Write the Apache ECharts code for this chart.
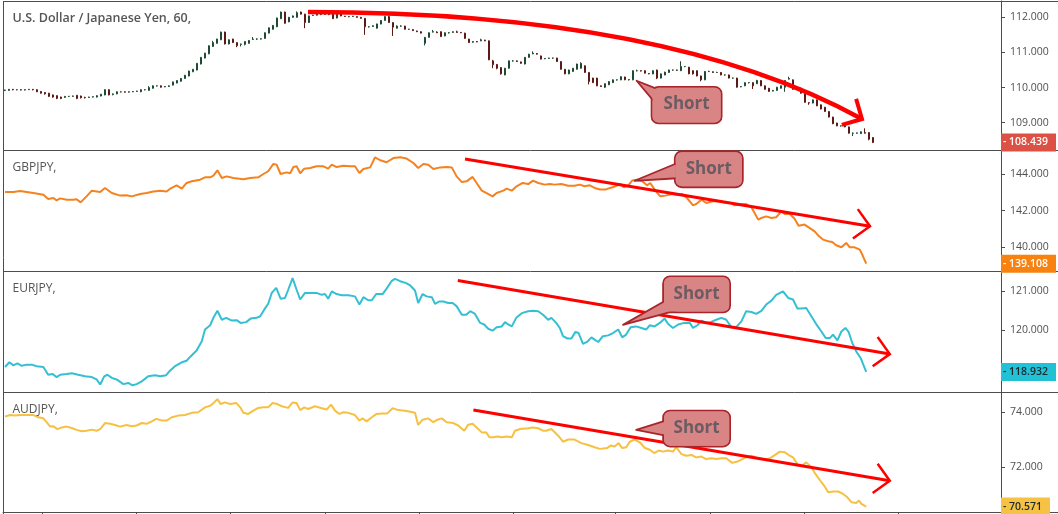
<!DOCTYPE html>
<html><head><meta charset="utf-8">
<script src="https://cdn.jsdelivr.net/npm/echarts@6/dist/echarts.min.js"></script>
<style>html,body{margin:0;padding:0;background:#fff}#c{width:1058px;height:514px}</style>
</head><body><div id="c"></div><script>
// ---------- DATA ----------
// USDJPY 60-min candles: [open, close, low, high]
const usdCandles = [
[109.92,109.93,109.90,109.94],[109.92,109.95,109.91,109.96],[109.95,109.94,109.92,109.96],[109.94,109.94,109.92,109.95],
[109.94,109.93,109.92,109.95],[109.93,109.94,109.92,109.95],[109.94,109.95,109.93,109.96],[109.95,109.94,109.92,109.96],
[109.94,109.88,109.87,109.95],[109.89,109.84,109.83,109.90],[109.86,109.82,109.80,109.87],[109.84,109.75,109.73,109.85],
[109.79,109.73,109.71,109.80],[109.77,109.69,109.67,109.78],[109.73,109.69,109.67,109.74],[109.72,109.75,109.71,109.76],
[109.75,109.75,109.73,109.76],[109.75,109.76,109.74,109.77],[109.78,109.69,109.67,109.79],[109.76,109.71,109.69,109.77],
[109.72,109.71,109.69,109.74],[109.72,109.73,109.71,109.74],[109.73,109.74,109.72,109.75],[109.73,109.77,109.72,109.78],
[109.76,109.81,109.75,109.82],[109.79,109.94,109.78,109.95],[109.94,109.79,109.78,109.95],[109.80,109.82,109.78,109.83],
[109.82,109.88,109.81,109.89],[109.88,109.88,109.86,109.89],[109.88,109.87,109.86,109.89],[109.87,109.88,109.86,109.89],
[109.88,109.89,109.87,109.90],[109.89,109.90,109.88,109.91],[109.88,109.94,109.87,109.95],[109.94,109.94,109.92,109.95],
[109.92,110.00,109.91,110.04],[109.98,110.05,109.97,110.06],[110.05,110.05,110.03,110.06],[110.05,110.01,110.00,110.06],
[110.02,110.03,110.01,110.04],[110.03,110.05,110.02,110.06],[110.07,110.16,110.06,110.17],[110.13,110.20,110.12,110.21],
[110.18,110.26,110.17,110.27],[110.26,110.35,110.25,110.36],[110.33,110.47,110.32,110.48],[110.45,110.52,110.44,110.53],
[110.50,110.69,110.49,110.70],[110.67,110.86,110.66,110.87],[110.84,110.98,110.83,110.99],[110.96,111.19,110.95,111.20],
[111.17,111.28,111.16,111.33],[111.26,111.38,111.25,111.39],[111.36,111.58,111.35,111.59],[111.58,111.24,111.23,111.59],
[111.24,111.36,111.23,111.37],[111.38,111.28,111.27,111.39],[111.28,111.19,111.15,111.29],[111.23,111.24,111.17,111.25],
[111.23,111.31,111.20,111.32],[111.26,111.34,111.25,111.35],[111.37,111.38,111.36,111.44],[111.38,111.38,111.36,111.40],
[111.38,111.39,111.37,111.40],[111.40,111.56,111.39,111.57],[111.55,111.70,111.54,111.71],[111.66,111.77,111.65,111.78],
[111.73,111.98,111.72,111.99],[111.96,112.15,111.95,112.16],[112.15,111.83,111.82,112.16],[111.87,112.00,111.86,112.01],
[112.00,112.04,111.99,112.05],[112.00,112.13,111.99,112.17],[112.15,112.09,112.08,112.16],[112.09,111.85,111.69,112.10],
[111.85,112.04,111.84,112.05],[112.05,112.06,112.04,112.07],[112.06,112.09,112.05,112.10],[112.08,112.08,112.06,112.09],
[112.08,112.09,112.07,112.10],[112.09,112.08,112.06,112.10],[112.09,111.96,111.95,112.10],[111.98,112.13,111.97,112.14],
[112.13,112.04,112.03,112.14],[112.03,112.02,112.01,112.04],[112.02,112.02,112.00,112.03],
[112.02,112.03,112.01,112.04],[112.02,112.00,111.99,112.03],[112.00,111.97,111.96,112.01],[111.97,111.73,111.50,111.98],
[111.73,111.73,111.71,111.75],[111.74,111.76,111.73,111.77],[111.69,111.81,111.68,111.82],[111.81,111.91,111.80,111.92],
[111.91,112.02,111.90,112.03],[112.02,111.85,111.84,112.05],[111.85,111.72,111.47,111.86],[111.69,111.75,111.68,111.77],
[111.75,111.75,111.73,111.77],[111.75,111.66,111.65,111.76],[111.66,111.66,111.64,111.67],[111.65,111.62,111.61,111.66],
[111.61,111.59,111.58,111.62],[111.59,111.55,111.54,111.60],[111.26,111.43,111.20,111.44],[111.43,111.56,111.42,111.57],
[111.58,111.59,111.57,111.64],[111.58,111.56,111.55,111.60],[111.59,111.45,111.44,111.60],[111.47,111.56,111.46,111.57],
[111.56,111.56,111.54,111.58],[111.57,111.59,111.56,111.60],[111.59,111.57,111.56,111.62],[111.57,111.56,111.55,111.58],
[111.55,111.40,111.39,111.56],[111.38,111.28,111.27,111.39],[111.29,111.31,111.28,111.32],[111.31,111.30,111.29,111.32],
[111.33,111.36,111.32,111.39],[111.35,111.33,111.32,111.36],[111.33,110.79,110.78,111.34],[110.76,110.65,110.55,110.79],
[110.66,110.55,110.52,110.67],[110.57,110.39,110.37,110.58],[110.36,110.55,110.35,110.56],[110.55,110.76,110.54,110.77],
[110.76,110.76,110.74,110.78],[110.76,110.74,110.73,110.77],[110.73,110.69,110.68,110.74],[110.67,110.86,110.66,110.87],
[110.86,110.95,110.85,110.96],[110.96,110.98,110.95,111.03],[110.97,110.95,110.94,110.98],[110.90,110.81,110.80,110.91],
[110.82,110.83,110.81,110.84],[110.83,110.84,110.82,110.85],[110.84,110.84,110.82,110.85],[110.84,110.74,110.73,110.85],
[110.74,110.52,110.51,110.75],[110.52,110.39,110.38,110.53],[110.39,110.50,110.38,110.51],[110.46,110.55,110.45,110.56],
[110.52,110.67,110.51,110.68],[110.55,110.69,110.54,110.72],[110.62,110.43,110.42,110.63],[110.43,110.17,110.09,110.44],
[110.27,110.14,110.13,110.28],[110.27,110.05,110.04,110.28],[110.05,110.03,110.02,110.06],[110.01,110.11,109.99,110.12],
[110.08,110.17,110.07,110.18],[110.14,110.22,110.13,110.23],[110.22,110.22,110.20,110.23],[110.22,110.31,110.21,110.32],
[110.30,110.22,110.21,110.31],[110.22,110.23,110.20,110.24],[110.22,110.48,110.21,110.49],[110.48,110.48,110.46,110.51],
[110.48,110.47,110.46,110.49],[110.48,110.41,110.40,110.49],[110.40,110.39,110.38,110.41],[110.39,110.48,110.38,110.49],
[110.50,110.27,110.24,110.51],[110.27,110.39,110.26,110.40],[110.36,110.44,110.35,110.45],[110.43,110.50,110.42,110.51],
[110.50,110.50,110.48,110.51],[110.50,110.49,110.48,110.51],[110.48,110.60,110.47,110.75],[110.60,110.60,110.58,110.61],
[110.58,110.39,110.38,110.59],[110.48,110.39,110.37,110.49],[110.48,110.33,110.32,110.49],[110.33,110.22,110.18,110.34],
[110.22,110.46,110.21,110.47],[110.46,110.46,110.44,110.48],[110.45,110.43,110.42,110.46],[110.43,110.43,110.42,110.45],
[110.43,110.36,110.35,110.44],[110.36,110.36,110.34,110.37],[110.36,110.27,110.26,110.37],[110.27,110.27,110.25,110.28],
[110.27,110.01,110.00,110.28],[110.02,110.03,110.01,110.04],[110.05,110.14,110.04,110.15],[110.14,110.14,110.12,110.15],
[110.14,110.05,109.96,110.15],[110.11,110.20,110.10,110.22],[110.20,110.05,110.04,110.21],[110.05,109.95,109.94,110.06],
[109.98,109.89,109.88,109.99],[109.90,109.92,109.89,109.93],[109.92,110.01,109.91,110.02],[109.98,110.05,109.97,110.06],
[110.01,110.20,109.88,110.21],[110.24,110.26,110.23,110.31],[110.22,109.95,109.94,110.23],[109.95,109.95,109.93,109.97],
[109.98,109.84,109.83,110.00],[109.82,109.58,109.57,109.83],[109.57,109.56,109.51,109.58],[109.56,109.65,109.55,109.66],
[109.65,109.48,109.47,109.66],[109.51,109.39,109.38,109.52],[109.44,109.32,109.31,109.45],[109.32,109.16,109.15,109.33],
[109.16,108.97,108.96,109.17],[108.99,108.91,108.90,109.00],[108.91,108.91,108.89,108.92],[108.88,108.97,108.87,108.98],
[108.88,108.70,108.69,108.89],[108.70,108.70,108.62,108.72],[108.70,108.71,108.69,108.72],[108.69,108.74,108.68,108.75],
[108.72,108.70,108.69,108.84],[108.72,108.53,108.50,108.73],[108.58,108.439,108.42,108.59]
];
// [bar index, close]
const gbpjpy = [
[0,143.02],[2.1,143.02],[3.8,143.07],[5.4,143.02],[7.1,142.96],[9.6,142.87],[10.8,142.64],[12.1,142.69],[12.9,142.56],[13.8,142.67],[15.4,142.60],[17.1,142.60],[17.9,142.62],[18.9,142.45],[20.4,142.78],[21.7,143.09],[23.8,143.02],[25,143.24],[26.7,142.96],[28.8,142.82],[30.4,142.84],[31.7,142.78],[33.8,142.91],[35.4,142.96],[37.1,143.05],[38.8,143.09],[40.4,143.04],[41.3,143.20],[42.9,143.38],[44.2,143.20],[45.4,143.51],[46.7,143.60],[48.8,143.69],[50,143.82],[51.3,143.82],[52.1,143.91],[53.1,144.20],[54.2,143.78],[55.4,143.87],[57.1,143.78],[59.6,143.71],[61.3,143.78],[63.3,143.82],[64.6,144.00],[65.8,144.15],[67.1,144.55],[67.9,144.51],[68.9,144.00],[70.4,144.09],[71.3,144.04],[72.1,144.38],[72.9,144.42],[73.8,144.04],[74.8,144.29],[76.3,144.33],[77.9,144.42],[79.6,144.42],[80.8,144.29],[81.7,144.51],[82.9,144.38],[84.6,144.45],[86.3,144.42],[87.5,144.42],[88.6,144.05],[89.6,144.27],[91.3,144.36],[92.5,144.91],[93.8,144.75],[95.4,144.64],[97.1,144.87],[98.8,144.91],[100.4,144.84],[102.1,144.60],[103.3,144.33],[104.6,144.55],[105.8,144.51],[107.1,144.27],[108.8,144.36],[110.4,144.38],[111.7,144.36],[112.9,143.87],[114.2,143.56],[115.4,143.60],[116.9,143.84],[117.9,143.51],[119.2,143.09],[120.4,142.96],[121.9,142.78],[122.9,142.96],[124.6,143.09],[125.4,143.20],[126.7,143.09],[127.9,143.33],[129.4,143.51],
[130.8,143.45],[132,143.64],[133.3,143.51],[134.9,143.42],[136.2,143.45],[137.4,143.42],[139.1,143.45],[140.8,143.36],[142.4,143.36],[143.7,143.42],[144.9,143.33],[146.2,143.38],[147.4,143.24],[148.8,143.15],[150.1,143.15],[151.3,143.24],[152.6,143.33],[153.8,143.45],[154.7,143.27],[155.8,143.38],[156.8,143.64],[158,143.69],[159.3,143.60],[160.5,143.38],[161.3,143.51],[162.6,143.09],[163.8,142.78],[165.1,142.82],[166.8,142.91],[168,142.87],[169.3,142.91],[170.5,142.69],[172,142.29],[172.8,142.36],[174.1,142.60],[175.3,142.42],[177,142.51],[178.7,142.51],[179.9,142.45],[181.6,142.42],[182.4,142.29],[183.7,142.33],[185.3,142.36],[186.6,142.18],[187.4,141.87],[188.3,141.51],[189.1,141.60],[190.3,141.69],[191.6,141.60],[192.8,141.64],[194.1,141.96],[194.9,141.82],[196.2,141.82],[197.4,141.56],[198.4,141.18],[199.9,141.24],[201.2,141.05],[202.4,140.87],[203.3,140.65],[204.5,140.42],[205.8,140.33],[206.8,140.29],[207.8,140.11],[209.1,140.00],[210.3,140.24],[211.2,140.00],[212.4,140.00],[213.7,139.87],[214.5,139.51],[215.3,139.108]
];
const eurjpy = [
[0,119.06],[1.1,119.18],[2.1,119.10],[3.1,119.15],[4.2,119.09],[5.4,119.12],[6.7,119.12],[7.9,119.08],[9.6,119.06],[10.8,118.86],[11.9,118.88],[12.9,118.80],[13.8,118.86],[15.4,118.88],[16.7,118.90],[18.3,118.86],[20,118.82],[21.7,118.80],[22.9,118.74],[23.8,118.61],[24.8,118.82],[25.6,118.86],[26.7,118.78],[27.9,118.74],[29.6,118.62],[30.8,118.65],[31.9,118.59],[32.9,118.62],[34.2,118.69],[35.8,118.82],[37.5,118.85],[38.8,118.82],[40.3,118.85],[41.3,118.97],[42.5,119.08],[44.2,119.18],[45.4,119.22],[46.4,119.33],[47.9,119.48],[49.2,119.72],[50,120.02],[51.3,120.13],[52.1,120.32],[53.1,120.50],[54.2,120.27],[55.3,120.32],[56.7,120.25],[57.9,120.26],[58.9,120.19],[60.3,120.21],[61.4,120.30],[62.9,120.32],[63.8,120.36],[64.8,120.53],[65.8,120.68],[66.7,120.96],[67.8,121.09],[68.9,120.81],[70,120.83],[70.8,121.04],[71.9,121.34],[72.9,121.04],[73.8,120.79],[75,120.96],[76.7,120.96],[77.9,120.96],[79.2,120.91],[80,120.93],[80.8,120.81],[81.7,121.00],[82.9,120.93],[84.2,120.90],[85.8,120.90],[87.5,120.87],[88.6,120.66],[89.6,120.85],[90.8,120.77],[91.7,120.77],[92.8,120.93],[94.4,120.93],[95.4,121.07],[96.7,121.27],[97.5,121.32],[98.8,121.26],[100.3,121.21],[101.3,121.15],[102.5,121.02],[103.3,120.70],[104.4,120.93],[105.4,120.87],[106.7,120.85],[107.5,120.68],[108.6,120.74],[109.6,120.74],[110.8,120.70],[111.9,120.70],[112.9,120.62],[114.2,120.40],[115.3,120.40],[116.3,120.49],[117.5,120.42],[118.8,120.19],[119.8,120.15],[120.8,120.04],[121.9,119.99],[122.9,120.08],[124.2,120.10],[125,120.21],[125.8,120.15],[126.7,120.10],[127.8,120.32],[129.2,120.44],
[130.8,120.49],[132,120.50],[133.3,120.49],[134.5,120.40],[135.8,120.27],[136.6,120.32],[137.8,120.19],[138.7,120.06],[139.5,119.85],[140.6,119.79],[141.6,119.79],[142.6,119.96],[143.4,119.93],[144.5,119.65],[145.6,119.71],[146.6,119.82],[147.4,119.76],[148.3,119.70],[149.5,119.85],[150.8,119.87],[152,119.93],[153.3,120.02],[154.3,119.82],[155.3,119.89],[156.4,120.08],[157.8,120.10],[159.1,120.06],[160.3,120.02],[161.2,120.13],[162.4,120.10],[163.7,120.19],[164.9,120.30],[165.8,120.16],[167,120.06],[168.3,120.15],[169.8,120.19],[171.2,120.19],[172,120.06],[173.1,120.13],[174.1,120.25],[175.3,120.19],[176.4,120.21],[177.8,120.27],[179.1,120.32],[180.3,120.27],[181.6,120.08],[182.8,120.08],[184.1,120.23],[185.3,120.49],[186.6,120.47],[187.8,120.42],[189.1,120.50],[190.3,120.66],[191.6,120.76],[192.8,120.91],[194.5,121.00],[195.8,120.83],[197,120.79],[198.1,120.56],[199.1,120.56],[200.3,120.57],[201.6,120.36],[202.8,120.16],[204.1,119.97],[205.2,119.80],[206.2,119.80],[207,119.89],[208.1,119.74],[209.1,119.97],[210.1,120.06],[210.9,119.96],[211.8,119.68],[212.8,119.46],[213.9,119.29],[215.3,118.932]
];
const audjpy = [
[0,73.85],[1.3,73.90],[2.5,73.88],[3.8,73.90],[5.4,73.90],[7.1,73.90],[8.3,73.82],[9.6,73.78],[10.4,73.64],[11.3,73.48],[12.1,73.49],[13.1,73.39],[14.2,73.45],[15.4,73.48],[16.7,73.43],[17.9,73.36],[19.2,73.31],[20.4,73.33],[21.7,73.37],[22.9,73.33],[23.8,73.39],[25,73.61],[26.3,73.58],[27.5,73.54],[28.8,73.48],[30.4,73.54],[31.7,73.49],[32.9,73.52],[34.2,73.61],[35.4,73.58],[36.7,73.67],[37.8,73.76],[39.2,73.70],[40.4,73.70],[41.7,73.82],[43.3,73.88],[45,73.90],[46.7,73.98],[48.3,74.00],[50,74.18],[51.3,74.24],[52.3,74.36],[53.1,74.48],[53.9,74.30],[55,74.36],[56.3,74.30],[57.8,74.34],[58.8,74.18],[59.6,73.98],[60.8,73.94],[62.1,74.06],[63.3,74.16],[64.6,74.18],[65.8,74.18],[66.9,74.34],[68.1,74.30],[69.2,74.22],[70.8,74.16],[71.9,74.36],[72.9,74.34],[73.8,74.08],[74.8,74.18],[75.8,74.12],[77.5,74.22],[79.2,74.15],[80.4,74.10],[81.5,74.28],[82.5,74.06],[83.6,73.94],[84.6,74.00],[85.8,73.98],[87.5,73.90],[88.6,73.70],[89.4,73.78],[90.4,73.67],[91.7,73.82],[92.9,73.94],[94.2,73.96],[95.6,73.96],[96.9,74.15],[98.3,74.08],[100,74.06],[101.3,74.02],[102.5,73.98],[103.3,73.54],[104.4,73.73],[105.8,73.78],[107.1,73.64],[108.1,73.73],[109.2,73.78],[110.4,73.64],[112.1,73.61],[113.3,73.52],[114.8,73.33],[115.8,73.55],[116.9,73.58],[117.9,73.45],[119.2,73.27],[120.3,73.27],[121.1,73.09],[122.1,73.09],[123.1,73.12],[124.2,73.09],[125.4,73.12],[126.7,73.09],[127.5,73.33],[128.8,73.39],
[130.8,73.42],[132,73.45],[133.3,73.42],[134.5,73.33],[135.3,73.33],[136.6,73.39],[138.3,73.15],[139.5,72.93],[140.8,73.01],[142.4,73.01],[144.1,72.88],[145.8,72.81],[147.4,72.73],[148.7,72.67],[150.5,72.70],[151.4,72.79],[152.4,72.76],[153.4,72.88],[154.3,72.70],[155.3,72.73],[156.2,72.93],[157.4,73.01],[158.7,72.91],[160,72.70],[161.2,72.64],[162.3,72.52],[163.4,72.61],[164.5,72.57],[165.8,72.61],[167,72.57],[167.8,72.73],[169.1,72.48],[170.3,72.42],[171.6,72.45],[172.8,72.36],[174.1,72.39],[175.3,72.30],[176.6,72.33],[177.8,72.30],[179.1,72.33],[180.3,72.33],[181.8,72.16],[183.1,72.21],[184.1,72.28],[185.3,72.36],[186.6,72.42],[187.8,72.36],[189.1,72.30],[190.3,72.28],[191.6,72.36],[192.8,72.48],[193.7,72.57],[194.9,72.55],[196.2,72.42],[197,72.36],[198.1,72.12],[199.1,72.04],[200.3,72.18],[201.6,72.00],[202.6,71.76],[203.8,71.52],[204.9,71.31],[205.8,71.09],[207,71.12],[208.3,71.12],[209.5,71.03],[210.6,70.91],[211.6,70.73],[212.8,70.70],[213.5,70.79],[214.1,70.67],[215.3,70.571]
];
const usdTicks = [109, 110, 111, 112];
const gbpTicks = [140, 142, 144];
const eurTicks = [120, 121];
const audTicks = [72, 74];
const timeTicks = [9.2, 32.9, 56.3, 80, 103.6, 127.1, 152.6, 176.2, 199.8, 223.3];
const paneTitles = ['U.S. Dollar / Japanese Yen, 60,', 'GBPJPY,', 'EURJPY,', 'AUDJPY,'];
// annotations in data space: [x, price]
const trendArrows = [
  { from: [75.75, 112.15], ctrl: [165.5, 112.15], to: [214.25, 109.105] },
  { from: [115, 144.82], ctrl: [115, 144.82], to: [216.25, 141.15] },
  { from: [113.2, 121.28], ctrl: [113.2, 121.28], to: [221.2, 119.39] },
  { from: [117.1, 74.08], ctrl: [117.1, 74.08], to: [221.2, 71.51] }
];
const callouts = [
  { text: 'Short', tip: [157.9, 110.195], box: [170.4, 109.50] },
  { text: 'Short', tip: [157.4, 143.63], box: [175.95, 144.26] },
  { text: 'Short', tip: [154.5, 120.14], box: [172.9, 120.92] },
  { text: 'Short', tip: [157.8, 73.36], box: [172.9, 73.41] }
];

// ---------- STYLE / LAYOUT ----------
const CHROME = '#4d4d4d';
const FONT = 'Open Sans';
const panes = [
  { top: 1, height: 149.5, min: 108.209, max: 112.464, ticks: usdTicks, titleTop: 11.5, titleSize: 12.5, titleWeight: 600 },
  { top: 150.5, height: 120.5, min: 138.707, max: 145.282, ticks: gbpTicks, titleTop: 162, titleSize: 12, titleWeight: 'normal' },
  { top: 271, height: 121, min: 118.418, max: 121.521, ticks: eurTicks, titleTop: 282.8, titleSize: 12, titleWeight: 'normal' },
  { top: 392, height: 120, min: 70.375, max: 74.738, ticks: audTicks, titleTop: 403.8, titleSize: 12, titleWeight: 'normal' }
];
const arrowWidths = [4.5, 3, 3, 3];
const calloutShapes = [
  { w: 70, h: 36.6, base: [[-29, -16], [-32, -3]] },
  { w: 68, h: 36, base: [[-32, -6], [-32, 9]] },
  { w: 67, h: 36, base: [[-31, 6], [-20, 16]] },
  { w: 67, h: 36, base: [[-31, -8], [-31, 7]] }
];
const lastLabelStyles = [
  { bg: '#dd5044', color: '#ffffff' },
  { bg: '#f7820f', color: '#ffffff' },
  { bg: '#22c1d6', color: '#1b2a30' },
  { bg: '#f6c244', color: '#1b2a30' }
];

function lastMark(value, k) {
  const s = lastLabelStyles[k];
  return {
    silent: true, symbol: 'none', precision: 3, animation: false,
    lineStyle: { color: 'rgba(0,0,0,0)', width: 0, opacity: 1 },
    emphasis: { disabled: true },
    label: {
      show: true, position: 'end', distance: 0, opacity: 1,
      formatter: '- ' + value.toFixed(3),
      backgroundColor: s.bg, color: s.color,
      padding: [3, 8, 2, 2], fontSize: 10.5, lineHeight: 13,
      fontFamily: FONT, fontWeight: 600
    },
    data: [{ yAxis: value }]
  };
}

function arrowRenderer(width) {
  return function (params, api) {
    const p0 = api.coord([api.value(0), api.value(1)]);
    const c = api.coord([api.value(2), api.value(3)]);
    const p1 = api.coord([api.value(4), api.value(5)]);
    let dx = p1[0] - c[0], dy = p1[1] - c[1];
    const len = Math.hypot(dx, dy) || 1; dx /= len; dy /= len;
    const bx = -dx, by = -dy, a = Math.PI / 4, L = 21;
    const arm = s => [p1[0] + L * (bx * Math.cos(s * a) - by * Math.sin(s * a)),
                      p1[1] + L * (bx * Math.sin(s * a) + by * Math.cos(s * a))];
    return {
      type: 'group', children: [
        { type: 'bezierCurve', shape: { x1: p0[0], y1: p0[1], x2: p1[0], y2: p1[1], cpx1: c[0], cpy1: c[1] },
          style: { stroke: '#ff0000', lineWidth: width, fill: 'none', lineCap: 'butt' } },
        { type: 'polyline', shape: { points: [arm(1), p1, arm(-1)] },
          style: { stroke: '#ff0000', lineWidth: width - 0.5, fill: 'none', lineJoin: 'miter' } }
      ]
    };
  };
}

function calloutRenderer(spec, label) {
  const FILL = '#d98585', STROKE = '#a8262b', LW = 1.8;
  return function (params, api) {
    const tip = api.coord([api.value(0), api.value(1)]);
    const c = api.coord([api.value(2), api.value(3)]);
    const b1 = [c[0] + spec.base[0][0], c[1] + spec.base[0][1]];
    const b2 = [c[0] + spec.base[1][0], c[1] + spec.base[1][1]];
    const x = c[0] - spec.w / 2, y = c[1] - spec.h / 2;
    return {
      type: 'group', children: [
        { type: 'rect', shape: { x: x, y: y, width: spec.w, height: spec.h, r: 7 }, style: { fill: FILL, stroke: STROKE, lineWidth: LW } },
        { type: 'polygon', shape: { points: [tip, b1, b2] }, style: { fill: FILL, stroke: STROKE, lineWidth: LW, lineJoin: 'round' } },
        { type: 'rect', shape: { x: x + LW / 2, y: y + LW / 2, width: spec.w - LW, height: spec.h - LW, r: 6 }, style: { fill: FILL, stroke: 'none' } },
        { type: 'text', x: c[0], y: c[1] - 0.5, style: { text: label, fill: '#6a5c62', font: 'bold 17px "Open Sans"', align: 'center', verticalAlign: 'middle' } }
      ]
    };
  };
}

const chart = echarts.init(document.getElementById('c'), null, { renderer: 'canvas' });

const grid = panes.map(p => ({ left: 3, right: 57, top: p.top, height: p.height, show: false }));
const xAxis = panes.map((p, k) => ({
  type: 'value', gridIndex: k, min: -0.5, max: 249, show: k === 3,
  axisLine: { show: true, lineStyle: { color: CHROME } },
  axisTick: { show: true, length: 3, customValues: timeTicks, lineStyle: { color: CHROME } },
  axisLabel: { show: false }, splitLine: { show: false }
}));
const yAxis = panes.map((p, k) => ({
  type: 'value', gridIndex: k, position: 'right', min: p.min, max: p.max,
  axisLine: { show: true, onZero: false, lineStyle: { color: CHROME } },
  axisTick: { show: true, length: 4, customValues: p.ticks, lineStyle: { color: CHROME } },
  axisLabel: { customValues: p.ticks, formatter: v => Number(v).toFixed(3), color: '#505050', fontSize: 10.5, fontFamily: FONT, margin: 9 },
  splitLine: { show: false }
}));

const usdLast = usdCandles[usdCandles.length - 1][1];
const series = [
  {
    type: 'candlestick', xAxisIndex: 0, yAxisIndex: 0, barWidth: 2, z: 2,
    data: usdCandles.map((d, i) => [i, d[0], d[1], d[2], d[3]]),
    itemStyle: { color: '#4e9c6f', color0: '#c4473d', borderColor: '#1f4a33', borderColor0: '#5c1a16', borderWidth: 1 },
    markLine: lastMark(usdLast, 0)
  },
  { type: 'line', xAxisIndex: 1, yAxisIndex: 1, data: gbpjpy, showSymbol: false, symbol: 'none', z: 2,
    lineStyle: { color: '#f5821f', width: 2 }, itemStyle: { color: '#f5821f' }, markLine: lastMark(gbpjpy[gbpjpy.length - 1][1], 1) },
  { type: 'line', xAxisIndex: 2, yAxisIndex: 2, data: eurjpy, showSymbol: false, symbol: 'none', z: 2,
    lineStyle: { color: '#35bfd3', width: 2 }, itemStyle: { color: '#35bfd3' }, markLine: lastMark(eurjpy[eurjpy.length - 1][1], 2) },
  { type: 'line', xAxisIndex: 3, yAxisIndex: 3, data: audjpy, showSymbol: false, symbol: 'none', z: 2,
    lineStyle: { color: '#f6c143', width: 2 }, itemStyle: { color: '#f6c143' }, markLine: lastMark(audjpy[audjpy.length - 1][1], 3) }
];
trendArrows.forEach((a, k) => series.push({
  type: 'custom', xAxisIndex: k, yAxisIndex: k, z: 5, silent: true,
  data: [[a.from[0], a.from[1], a.ctrl[0], a.ctrl[1], a.to[0], a.to[1]]],
  renderItem: arrowRenderer(arrowWidths[k])
}));
callouts.forEach((c, k) => series.push({
  type: 'custom', xAxisIndex: k, yAxisIndex: k, z: 6, silent: true,
  data: [[c.tip[0], c.tip[1], c.box[0], c.box[1]]],
  renderItem: calloutRenderer(calloutShapes[k], c.text)
}));

const title = panes.map((p, k) => ({
  text: paneTitles[k], left: 12.5, top: p.titleTop, padding: 0,
  textStyle: { fontFamily: FONT, fontSize: p.titleSize, fontWeight: p.titleWeight, color: '#555555' }
}));

const sepY = [1.5, 150.5, 271.5, 392.5, 512.5];
const graphic = sepY.map(y => ({ type: 'line', silent: true, z: 0, shape: { x1: 3, y1: y, x2: 1058, y2: y }, style: { stroke: CHROME, lineWidth: 1 } }));
graphic.push({ type: 'line', silent: true, z: 0, shape: { x1: 3.5, y1: 1, x2: 3.5, y2: 514 }, style: { stroke: CHROME, lineWidth: 1 } });

chart.setOption({
  animation: false,
  backgroundColor: '#ffffff',
  title, grid, xAxis, yAxis, series, graphic
});
</script></body></html>
